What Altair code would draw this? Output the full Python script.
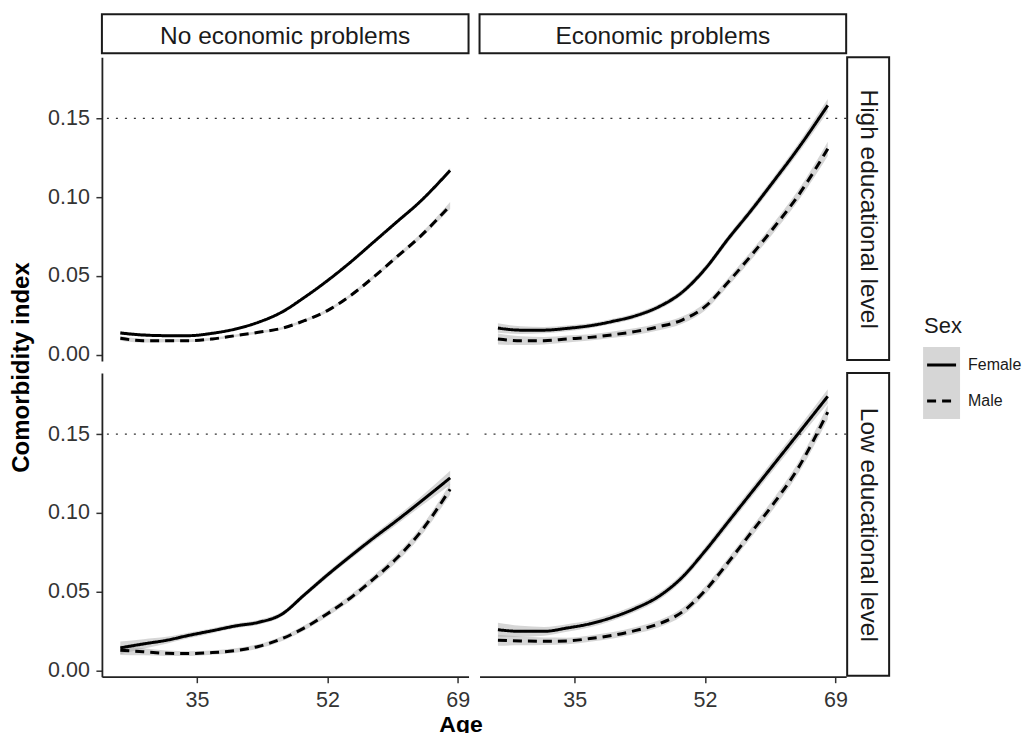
import altair as alt
import pandas as pd

FONT = "Liberation Sans"
W, H = 367, 304

ages = [25, 28, 31, 34, 37, 40, 43, 46, 49, 52, 55, 58, 61, 64, 68]
sexes = ["Female", "Male"]
econ_levels = ["No economic problems", "Economic problems"]
edu_levels = ["High educational level", "Low educational level"]

# High educational level, no economic problems
hi_noecon_female = [0.0138, 0.0125, 0.0121, 0.0121, 0.0136, 0.0163, 0.0206, 0.0269, 0.0364, 0.0470, 0.0587, 0.0714, 0.0841, 0.0968, 0.1170]
hi_noecon_male = [0.0104, 0.0089, 0.0089, 0.0089, 0.0100, 0.0121, 0.0142, 0.0167, 0.0216, 0.0280, 0.0375, 0.0492, 0.0619, 0.0746, 0.0947]
# High educational level, economic problems
hi_econ_female = [0.0169, 0.0156, 0.0156, 0.0167, 0.0184, 0.0212, 0.0248, 0.0305, 0.0396, 0.0544, 0.0735, 0.0915, 0.1105, 0.1300, 0.1583]
hi_econ_male = [0.0100, 0.0089, 0.0089, 0.0100, 0.0110, 0.0127, 0.0148, 0.0178, 0.0220, 0.0305, 0.0460, 0.0629, 0.0809, 0.1000, 0.1307]
# Low educational level, no economic problems
lo_noecon_female = [0.0143, 0.0168, 0.0191, 0.0223, 0.0252, 0.0282, 0.0305, 0.0355, 0.0480, 0.0606, 0.0725, 0.0840, 0.0950, 0.1065, 0.1222]
lo_noecon_male = [0.0128, 0.0118, 0.0109, 0.0107, 0.0113, 0.0126, 0.0152, 0.0200, 0.0270, 0.0360, 0.0460, 0.0580, 0.0710, 0.0870, 0.1150]
# Low educational level, economic problems
lo_econ_female = [0.0258, 0.0248, 0.0248, 0.0269, 0.0296, 0.0338, 0.0395, 0.0471, 0.0590, 0.0758, 0.0942, 0.1126, 0.1310, 0.1494, 0.1740]
lo_econ_male = [0.0191, 0.0187, 0.0185, 0.0187, 0.0202, 0.0223, 0.0254, 0.0296, 0.0370, 0.0506, 0.0685, 0.0874, 0.1063, 0.1273, 0.1640]

# half widths of the confidence bands
hi_noecon_female_ci = [0.0012, 0.0009, 0.0008, 0.0007, 0.0007, 0.0007, 0.0007, 0.0007, 0.0007, 0.0008, 0.0008, 0.0009, 0.0010, 0.0011, 0.0015]
hi_noecon_male_ci = [0.0015, 0.0012, 0.0010, 0.0009, 0.0008, 0.0008, 0.0008, 0.0008, 0.0009, 0.0010, 0.0011, 0.0012, 0.0014, 0.0016, 0.0022]
hi_econ_female_ci = [0.0030, 0.0024, 0.0020, 0.0018, 0.0016, 0.0016, 0.0016, 0.0017, 0.0018, 0.0020, 0.0022, 0.0024, 0.0027, 0.0030, 0.0040]
hi_econ_male_ci = [0.0035, 0.0028, 0.0024, 0.0022, 0.0020, 0.0020, 0.0021, 0.0022, 0.0023, 0.0024, 0.0026, 0.0028, 0.0031, 0.0034, 0.0045]
lo_noecon_female_ci = [0.0040, 0.0030, 0.0022, 0.0018, 0.0016, 0.0015, 0.0015, 0.0015, 0.0016, 0.0018, 0.0020, 0.0022, 0.0025, 0.0030, 0.0045]
lo_noecon_male_ci = [0.0030, 0.0022, 0.0017, 0.0015, 0.0014, 0.0014, 0.0014, 0.0015, 0.0016, 0.0018, 0.0020, 0.0022, 0.0025, 0.0028, 0.0035]
lo_econ_female_ci = [0.0045, 0.0035, 0.0028, 0.0024, 0.0022, 0.0021, 0.0021, 0.0022, 0.0024, 0.0026, 0.0028, 0.0030, 0.0033, 0.0036, 0.0045]
lo_econ_male_ci = [0.0035, 0.0028, 0.0024, 0.0021, 0.0020, 0.0020, 0.0021, 0.0022, 0.0024, 0.0026, 0.0028, 0.0030, 0.0033, 0.0036, 0.0045]

x_ticks = [35, 52, 69]
y_ticks = [0.0, 0.05, 0.10, 0.15]
ref_line = [0.15]

series = [
    (econ_levels[0], edu_levels[0], "Female", hi_noecon_female, hi_noecon_female_ci),
    (econ_levels[0], edu_levels[0], "Male", hi_noecon_male, hi_noecon_male_ci),
    (econ_levels[1], edu_levels[0], "Female", hi_econ_female, hi_econ_female_ci),
    (econ_levels[1], edu_levels[0], "Male", hi_econ_male, hi_econ_male_ci),
    (econ_levels[0], edu_levels[1], "Female", lo_noecon_female, lo_noecon_female_ci),
    (econ_levels[0], edu_levels[1], "Male", lo_noecon_male, lo_noecon_male_ci),
    (econ_levels[1], edu_levels[1], "Female", lo_econ_female, lo_econ_female_ci),
    (econ_levels[1], edu_levels[1], "Male", lo_econ_male, lo_econ_male_ci),
]
rows = []
for econ, edu, sex, vals, ci in series:
    for a, v, c in zip(ages, vals, ci):
        rows.append({"econ": econ, "edu": edu, "sex": sex, "age": a,
                     "value": v, "lo": v - c, "hi": v + c})
df = pd.DataFrame(rows)
ref_df = pd.DataFrame({"value": ref_line})

xs = alt.Scale(domain=[22.6, 70.4], nice=False, zero=False)
ys = alt.Scale(domain=[-0.004, 0.1888], nice=False, zero=False)
dash_scale = alt.Scale(domain=sexes, range=[[1, 0], [9, 6]])

axis_common = dict(
    labelFont=FONT, labelFontSize=21.5, labelColor="#333333", labelPadding=6.5,
    tickSize=6, tickColor="#333333", tickWidth=1.5,
    domainColor="#222222", domainWidth=1.8, grid=False, labelFlush=False,
)


def x_axis(with_title):
    if with_title:
        return alt.Axis(values=x_ticks, format="d", title="Age", titleFont=FONT,
                        titleFontSize=23, titleFontWeight="bold", titleColor="black",
                        titleX=359, titleY=37, titleAlign="center", titleBaseline="top",
                        **axis_common)
    return alt.Axis(values=x_ticks, format="d", title=None, **axis_common)


def y_axis(with_title):
    if with_title:
        return alt.Axis(values=y_ticks, format=".2f", title="Comorbidity index",
                        titleFont=FONT, titleFontSize=24, titleFontWeight="bold",
                        titleColor="black", titleX=-80, titleY=310, titleAngle=270,
                        titleAlign="center", titleBaseline="middle", **axis_common)
    return alt.Axis(values=y_ticks, format=".2f", title=None, **axis_common)


def panel(econ, edu, xa, ya, col_label=None, row_label=None):
    d = df[(df.econ == econ) & (df.edu == edu)]
    X = alt.X("age:Q", scale=xs, axis=xa)
    band = alt.Chart(d).mark_area(color="#999999", opacity=0.4, interpolate="monotone").encode(
        x=X, y=alt.Y("lo:Q", scale=ys, axis=ya), y2="hi:Q", detail="sex:N")
    ref = alt.Chart(ref_df).mark_rule(color="#333333", strokeWidth=1.3, strokeDash=[2, 7]).encode(
        y=alt.Y("value:Q", scale=ys, axis=ya))
    line = alt.Chart(d).mark_line(color="black", strokeWidth=3, interpolate="monotone").encode(
        x=X, y=alt.Y("value:Q", scale=ys, axis=ya),
        strokeDash=alt.StrokeDash("sex:N", scale=dash_scale, legend=None))
    layers = [band, ref, line]
    if col_label:
        sd = pd.DataFrame({"label": [col_label]})
        layers.append(alt.Chart(sd).mark_rect(fill="white", stroke="#1a1a1a", strokeWidth=2).encode(
            x=alt.value(0), x2=alt.value(W), y=alt.value(-43), y2=alt.value(-4)))
        layers.append(alt.Chart(sd).mark_text(font=FONT, fontSize=24.5, color="#1a1a1a",
                                              baseline="alphabetic", align="center").encode(
            x=alt.value(W / 2), y=alt.value(-13), text="label:N"))
    if row_label:
        sd = pd.DataFrame({"label": [row_label]})
        layers.append(alt.Chart(sd).mark_rect(fill="white", stroke="#1a1a1a", strokeWidth=2).encode(
            x=alt.value(W + 1), x2=alt.value(W + 43), y=alt.value(0), y2=alt.value(H - 1)))
        layers.append(alt.Chart(sd).mark_text(font=FONT, fontSize=24.5, color="#1a1a1a", angle=90,
                                              baseline="middle", align="center").encode(
            x=alt.value(W + 22), y=alt.value(H / 2), text="label:N"))
    return alt.layer(*layers).properties(width=W, height=H)


TL = panel(econ_levels[0], edu_levels[0], None, y_axis(True), col_label=econ_levels[0])
TR = panel(econ_levels[1], edu_levels[0], None, None, col_label=econ_levels[1], row_label=edu_levels[0])
BL = panel(econ_levels[0], edu_levels[1], x_axis(True), y_axis(False))
BR = panel(econ_levels[1], edu_levels[1], x_axis(False), None, row_label=edu_levels[1])

grid = alt.concat(TL, TR, BL, BR, columns=2, spacing={"row": 12, "column": 11}, bounds="flush")

# manual legend
leg_df = pd.DataFrame({"sex": sexes})
title_df = pd.DataFrame({"t": ["Sex"]})
LY = alt.Y("sex:N", scale=alt.Scale(domain=sexes, range=[290, 362], paddingInner=0, paddingOuter=0), axis=None)
leg_rect = alt.Chart(leg_df).mark_rect(color="#d6d6d6").encode(
    x=alt.value(0), x2=alt.value(37), y=LY)
leg_rule = alt.Chart(leg_df).mark_rule(color="black", strokeWidth=3).encode(
    x=alt.value(4), x2=alt.value(33), y=LY,
    strokeDash=alt.StrokeDash("sex:N", scale=dash_scale, legend=None))
leg_text = alt.Chart(leg_df).mark_text(font=FONT, fontSize=16, color="#1a1a1a",
                                       align="left", baseline="middle").encode(
    x=alt.value(45), y=LY, text="sex:N")
leg_title = alt.Chart(title_df).mark_text(font=FONT, fontSize=22, color="#1a1a1a",
                                          align="left", baseline="alphabetic").encode(
    x=alt.value(1), y=alt.value(276), text="t:N")
legend = alt.layer(leg_rect, leg_rule, leg_text, leg_title).properties(
    width=60, height=362, view=alt.ViewBackground(fill="white", strokeWidth=0))

chart = alt.hconcat(grid, legend, spacing=33).properties(
    padding={"left": 2, "top": 5, "right": 0, "bottom": -4}
).configure(font=FONT, background="white").configure_view(strokeWidth=0)

chart.save("out.html", embed_options={"renderer": "svg", "actions": False})
